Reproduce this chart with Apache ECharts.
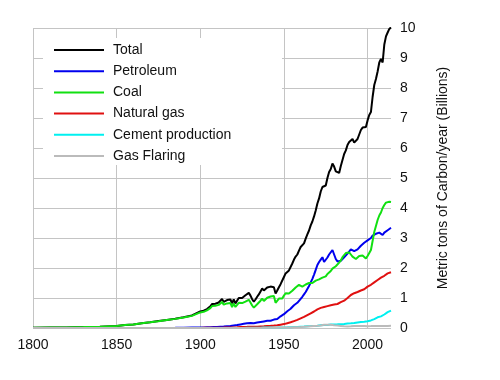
<!DOCTYPE html>
<html>
<head>
<meta charset="utf-8">
<script src="https://cdn.jsdelivr.net/npm/echarts@6/dist/echarts.min.js"></script>
<style>html,body{margin:0;padding:0;background:#fff}#c{width:500px;height:380px}</style>
</head>
<body>
<div id="c"></div>
<script>
const years = [1800,1810,1820,1830,1840,1850,1855,1860,1865,1870,1875,1880,1885,1890,1895,
1900,1901,1902,1903,1904,1905,1906,1907,1908,1909,
1910,1911,1912,1913,1914,1915,1916,1917,1918,1919,
1920,1921,1922,1923,1924,1925,1926,1927,1928,1929,
1930,1931,1932,1933,1934,1935,1936,1937,1938,1939,
1940,1941,1942,1943,1944,1945,1946,1947,1948,1949,
1950,1951,1952,1953,1954,1955,1956,1957,1958,1959,
1960,1961,1962,1963,1964,1965,1966,1967,1968,1969,
1970,1971,1972,1973,1974,1975,1976,1977,1978,1979,
1980,1981,1982,1983,1984,1985,1986,1987,1988,1989,
1990,1991,1992,1993,1994,1995,1996,1997,1998,1999,
2000,2001,2002,2003,2004,2005,2006,2007,2008,2009,
2010,2011,2012,2013,2014];

const total = [0.01,0.015,0.02,0.03,0.045,0.07,0.10,0.12,0.16,0.19,0.23,0.27,0.31,0.36,0.42,
0.55,0.57,0.58,0.63,0.63,0.67,0.72,0.80,0.77,0.81,
0.84,0.85,0.90,0.97,0.87,0.85,0.93,0.97,0.95,0.82,
0.95,0.82,0.88,1.00,0.98,1.00,1.01,1.09,1.10,1.17,
1.08,0.96,0.88,0.95,1.04,1.12,1.22,1.32,1.25,1.25,
1.35,1.39,1.38,1.40,1.36,1.15,1.25,1.36,1.46,1.50,
1.70,1.82,1.86,1.92,1.97,2.15,2.28,2.38,2.45,2.58,
2.70,2.72,2.82,2.98,3.12,3.25,3.42,3.55,3.72,3.92,
4.15,4.32,4.55,4.70,4.72,4.75,5.00,5.20,5.30,5.48,
5.38,5.22,5.17,5.17,5.40,5.60,5.80,5.92,6.10,6.20,
6.25,6.30,6.18,6.17,6.30,6.45,6.60,6.68,6.70,6.70,
6.92,7.10,7.20,7.70,8.10,8.30,8.55,8.85,8.97,8.85,
9.45,9.72,9.85,9.97,10.02];

const petroleum = [0,0,0,0,0,0,0,0,0,0.001,0.002,0.003,0.005,0.01,0.013,
0.016,0.018,0.019,0.02,0.022,0.024,0.025,0.03,0.032,0.034,
0.036,0.04,0.043,0.048,0.05,0.055,0.06,0.07,0.07,0.072,
0.085,0.09,0.10,0.11,0.12,0.13,0.14,0.15,0.16,0.17,
0.17,0.165,0.16,0.17,0.18,0.19,0.20,0.22,0.22,0.23,
0.24,0.25,0.24,0.26,0.28,0.27,0.30,0.35,0.39,0.41,
0.46,0.52,0.56,0.60,0.64,0.70,0.76,0.80,0.84,0.90,
0.97,1.04,1.12,1.20,1.30,1.40,1.52,1.64,1.78,1.94,
2.10,2.20,2.28,2.36,2.20,2.16,2.35,2.45,2.48,2.60,
2.45,2.30,2.22,2.20,2.24,2.24,2.36,2.40,2.48,2.55,
2.62,2.66,2.56,2.58,2.62,2.66,2.74,2.80,2.84,2.86,
2.92,2.96,3.00,3.08,3.14,3.14,3.16,3.18,3.14,3.10,
3.18,3.22,3.26,3.30,3.34];

const coal = [0.01,0.015,0.02,0.03,0.045,0.07,0.10,0.12,0.16,0.19,0.227,0.266,0.304,0.348,0.404,
0.52,0.53,0.54,0.59,0.59,0.62,0.66,0.73,0.70,0.74,
0.76,0.77,0.81,0.87,0.78,0.75,0.82,0.85,0.83,0.70,
0.82,0.70,0.73,0.84,0.82,0.83,0.82,0.88,0.88,0.94,
0.85,0.75,0.68,0.72,0.79,0.83,0.91,0.98,0.90,0.92,
1.01,1.04,1.05,1.08,1.07,0.84,0.90,0.98,1.02,0.98,
1.08,1.16,1.15,1.15,1.14,1.24,1.30,1.35,1.40,1.44,
1.46,1.38,1.40,1.45,1.48,1.50,1.52,1.50,1.54,1.58,
1.60,1.62,1.64,1.68,1.68,1.72,1.80,1.85,1.90,1.98,
2.03,2.06,2.12,2.18,2.25,2.36,2.42,2.50,2.55,2.52,
2.45,2.38,2.34,2.30,2.33,2.40,2.45,2.42,2.36,2.32,
2.40,2.50,2.60,2.90,3.20,3.40,3.60,3.75,3.85,4.00,
4.10,4.18,4.20,4.21,4.20];

const naturalGas = [0,0,0,0,0,0,0,0,0,0,0,0.001,0.001,0.002,0.003,
0.004,0.004,0.005,0.005,0.006,0.006,0.007,0.008,0.008,0.009,
0.01,0.011,0.012,0.013,0.013,0.014,0.016,0.018,0.018,0.018,
0.02,0.02,0.022,0.027,0.03,0.03,0.032,0.035,0.038,0.044,
0.045,0.042,0.04,0.04,0.045,0.048,0.052,0.058,0.058,0.06,
0.065,0.07,0.072,0.078,0.08,0.085,0.09,0.10,0.11,0.12,
0.13,0.15,0.16,0.18,0.19,0.21,0.23,0.25,0.27,0.30,
0.32,0.34,0.37,0.40,0.43,0.46,0.49,0.52,0.55,0.59,
0.62,0.65,0.67,0.70,0.70,0.70,0.73,0.74,0.76,0.79,
0.78,0.79,0.80,0.82,0.86,0.89,0.91,0.96,1.00,1.06,
1.10,1.14,1.16,1.18,1.20,1.22,1.25,1.27,1.29,1.32,
1.38,1.41,1.44,1.48,1.52,1.56,1.60,1.64,1.68,1.66,
1.74,1.79,1.82,1.84,1.86];

const cement = [0,0,0,0,0,0,0,0,0,0,0,0,0,0,0,
0,0,0,0,0,0,0,0,0,0,
0,0,0,0,0,0,0,0,0,0,
0,0,0,0,0,0,0,0.006,0.008,0.01,
0.01,0.01,0.008,0.009,0.01,0.011,0.012,0.013,0.013,0.014,
0.014,0.015,0.014,0.013,0.012,0.01,0.013,0.015,0.017,0.019,
0.018,0.020,0.022,0.024,0.027,0.030,0.032,0.035,0.036,0.040,
0.043,0.045,0.049,0.051,0.057,0.059,0.063,0.066,0.070,0.074,
0.078,0.084,0.089,0.095,0.096,0.095,0.103,0.108,0.116,0.119,
0.120,0.121,0.121,0.125,0.128,0.131,0.137,0.143,0.152,0.156,
0.157,0.161,0.167,0.176,0.186,0.197,0.203,0.209,0.209,0.217,
0.226,0.237,0.252,0.275,0.298,0.320,0.356,0.382,0.388,0.413,
0.450,0.500,0.530,0.560,0.580];

const gasFlaring = [0,0,0,0,0,0,0,0,0,0,0,0,0,0,0,
0,0,0,0,0,0,0,0,0,0,
0,0,0,0,0,0,0,0,0,0,
0,0,0,0,0,0,0,0,0,0,
0.003,0.003,0.003,0.003,0.004,0.004,0.004,0.005,0.005,0.005,
0.005,0.005,0.005,0.006,0.006,0.006,0.01,0.012,0.013,0.014,
0.015,0.017,0.018,0.019,0.02,0.022,0.024,0.026,0.028,0.03,
0.033,0.036,0.04,0.044,0.048,0.052,0.056,0.06,0.064,0.068,
0.072,0.076,0.082,0.11,0.107,0.092,0.108,0.104,0.106,0.098,
0.089,0.079,0.084,0.071,0.07,0.057,0.055,0.05,0.048,0.054,
0.058,0.068,0.07,0.069,0.07,0.066,0.064,0.062,0.064,0.063,
0.062,0.062,0.063,0.064,0.066,0.066,0.067,0.069,0.070,0.066,
0.066,0.068,0.070,0.072,0.073];

const seriesNames = ['Total','Petroleum','Coal','Natural gas','Cement production','Gas Flaring'];
const seriesValues = [total, petroleum, coal, naturalGas, cement, gasFlaring];
const seriesColors = ['#000000','#0000ee','#11e011','#e01010','#00f0f0','#bbbbbb'];
const yAxisName = 'Metric tons of Carbon/year (Billions)';

const font = '"Liberation Sans", Arial, sans-serif';
const chart = echarts.init(document.getElementById('c'), null, {renderer: 'canvas'});
chart.setOption({
  animation: false,
  backgroundColor: '#fff',
  grid: {left: 33, right: 109, top: 28, bottom: 52},
  xAxis: {
    type: 'value', min: 1800, max: 2014, interval: 50,
    axisLine: {show: false}, axisTick: {show: false},
    axisLabel: {fontSize: 14, color: '#111', fontFamily: font, margin: 10, showMaxLabel: false,
      formatter: v => String(v)},
    splitLine: {show: true, showMaxLine: false, lineStyle: {color: '#c4c4c4', width: 1}}
  },
  yAxis: {
    type: 'value', position: 'right', min: 0, max: 10, interval: 1,
    axisLine: {show: false}, axisTick: {show: false},
    axisLabel: {fontSize: 14, color: '#111', fontFamily: font, margin: 9},
    splitLine: {show: true, lineStyle: {color: '#c4c4c4', width: 1}},
    name: yAxisName, nameLocation: 'middle', nameRotate: 90, nameGap: 45,
    nameTextStyle: {fontSize: 14, color: '#111', fontFamily: font}
  },
  graphic: [{
    type: 'rect', z: 1, silent: true,
    shape: {x: 43, y: 38, width: 239, height: 127},
    style: {fill: '#fff'}
  }],
  legend: {
    data: seriesNames,
    orient: 'vertical', left: 53, top: 43, padding: 0,
    itemWidth: 50, itemHeight: 14, itemGap: 7.2,
    itemStyle: {opacity: 0},
    textStyle: {fontSize: 14, color: '#111', fontFamily: font, lineHeight: 14, padding: [0, 0, 0, 4]}
  },
  series: seriesNames.map((n, i) => ({
    name: n, type: 'line', symbol: 'none',
    data: years.map((y, j) => [y, seriesValues[i][j]]),
    lineStyle: {color: seriesColors[i], width: 2},
    itemStyle: {color: seriesColors[i]}
  }))
});
</script>
</body>
</html>
